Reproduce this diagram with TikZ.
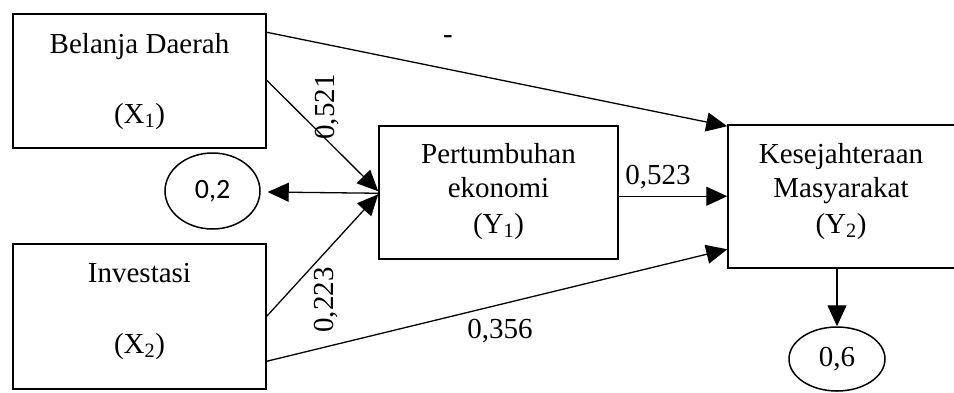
\documentclass[tikz,border=0pt]{standalone}
\usepackage{fontspec}
\setmainfont{Liberation Serif}
\newfontfamily\calfont{Carlito}
\usetikzlibrary{arrows.meta,shapes.geometric,calc}
\tikzset{
  box/.style={draw, line width=1.5pt, rectangle, inner sep=0pt},
  oval/.style={draw, line width=1.5pt, ellipse, inner sep=0pt},
  txt/.style={font=\fontsize{29}{34}\selectfont, inner sep=0pt, anchor=base},
  lbl/.style={font=\fontsize{29}{34}\selectfont, inner sep=0pt},
  conn/.style={line width=1.3pt, -{Triangle[length=21pt,width=19pt]}},
  connback/.style={line width=1.3pt, {Triangle[length=21pt,width=19pt]}-}
}
\begin{document}
\begin{tikzpicture}[x=1pt,y=-1pt]
\clip (0,0) rectangle (954,392);
\fill[white] (0,0) rectangle (954,392);
% boxes
\node[box, minimum width=253pt, minimum height=134pt] (x1) at (139.5,81) {};
\node[box, minimum width=253pt, minimum height=145pt] (x2) at (139.5,316.5) {};
\node[box, minimum width=239pt, minimum height=133pt] (y1) at (498.5,192.5) {};
\node[box, minimum width=230pt, minimum height=143pt] (y2) at (843,196.5) {};
\node[oval, minimum width=95pt, minimum height=76pt] (e2) at (212.5,191) {};
\node[oval, minimum width=96pt, minimum height=64pt] (e6) at (837,359) {};
% texts
\node[txt] (t1) at (139.5,53) {Belanja Daerah};
\node[txt] (t2) at (139.5,123) {(X\textsubscript{1})};
\node[txt] (t3) at (139.5,282) {Investasi};
\node[txt] (t4) at (139.5,353) {(X\textsubscript{2})};
\node[txt] (t5) at (498.5,163) {Pertumbuhan};
\node[txt] (t6) at (498.5,197) {ekonomi};
\node[txt] (t7) at (498.5,233) {(Y\textsubscript{1})};
\node[txt] (t8) at (841,163) {Kesejahteraan};
\node[txt] (t9) at (841,197) {Masyarakat};
\node[txt] (t10) at (841,233) {(Y\textsubscript{2})};
\node[lbl, font=\calfont\fontsize{28}{32}\selectfont] (v2) at (e2.center) {0,2};
\node[lbl] (v6) at (e6.center) {0,6};
% connectors
\coordinate (a1) at ($(x1.north east)+(0,19)$);
\coordinate (b1) at ($(y2.north west)+(0,2)$);
\draw[conn] (a1) -- (b1);
\coordinate (a2) at ($(x1.north east)+(0,67)$);
\coordinate (b2) at ($(y1.north west)+(0,66)$);
\draw[conn] (a2) -- (b2);
\coordinate (a3) at ($(x2.north east)+(0,73)$);
\coordinate (b3) at ($(y1.north west)+(0,69)$);
\draw[conn] (a3) -- (b3);
\coordinate (a4) at ($(e2.east)+(7,1)$);
\coordinate (b4) at ($(y1.north west)+(0,68)$);
\draw[connback] (a4) -- (b4);
\coordinate (a5) at ($(x2.north east)+(0,118)$);
\coordinate (b5) at ($(y2.north west)+(0,125)$);
\draw[conn] (a5) -- (b5);
\coordinate (a6) at ($(y1.north east)+(0,71)$);
\coordinate (b6) at ($(y2.north west)+(0,72)$);
\draw[conn] (a6) -- (b6);
\draw[conn] (y2.south -| e6.north) -- (e6.north);
% labels
\node[lbl] (l0) at (448,40) {-};
\node[lbl, rotate=90] (l1) at (327,107) {0,521};
\node[lbl, rotate=90] (l2) at (326,300) {0,223};
\node[txt] (l3) at (658,184) {0,523};
\node[txt] (l4) at (500,338) {0,356};
\end{tikzpicture}
\end{document}
